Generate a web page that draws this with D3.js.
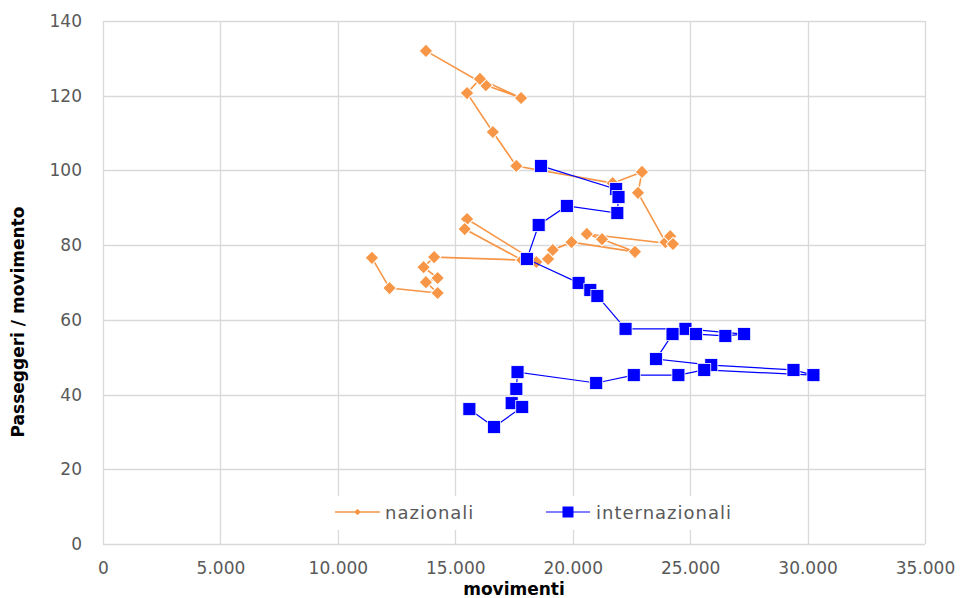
<!DOCTYPE html>
<html>
<head>
<meta charset="utf-8">
<script src="https://cdn.jsdelivr.net/npm/d3@7"></script>
<style>
  html, body { margin: 0; padding: 0; background: #fff; }
  svg { display: block; }
</style>
</head>
<body>
<svg id="chart" width="961" height="598"></svg>
<script>
// ---- data ----
const nazionaliMov = [13750, 16300, 17800, 16050, 15500, 16600, 17600, 21700, 22950, 22780,
  23950, 24150, 24270, 20600, 21250, 22650, 19950, 19150, 18950, 18450,
  15500, 15400, 17850, 14100, 13650, 14250, 13750, 14250, 12200, 11450];
const nazionaliPax = [132.0, 122.8, 119.4, 124.5, 120.7, 110.3, 101.2, 96.6, 99.6, 94.0,
  80.8, 82.4, 80.3, 83.0, 81.6, 78.2, 80.8, 78.7, 76.3, 75.5,
  87.0, 84.3, 76.0, 76.8, 74.1, 71.2, 70.1, 67.2, 68.5, 76.6];
const internazionaliMov = [18650, 21850, 21950, 21900, 19750, 18550, 18050, 20250, 20750, 21050,
  22250, 24800, 27300, 26500, 25250, 24250, 23550, 25900, 29400, 30250,
  25600, 24500, 22600, 21000, 17650, 17600, 17400, 17850, 16650, 15600];
const internazionaliPax = [101.2, 95.0, 92.9, 88.6, 90.5, 85.4, 76.3, 69.9, 68.0, 66.4,
  57.6, 57.6, 56.2, 55.7, 56.2, 56.2, 49.5, 47.9, 46.6, 45.2,
  46.6, 45.2, 45.2, 43.1, 46.0, 41.5, 37.7, 36.7, 31.3, 36.1];
const xTicks = [0, 5000, 10000, 15000, 20000, 25000, 30000, 35000];
const yTicks = [0, 20, 40, 60, 80, 100, 120, 140];
const seriesNames = ["nazionali", "internazionali"];

// ---- layout ----
const svg = d3.select("#chart");
const L = 103, R = 925, T = 21, B = 544;
const x = d3.scaleLinear().domain([0, 35000]).range([L, R]);
const y = d3.scaleLinear().domain([0, 140]).range([B, T]);
const gridColor = "#d9d9d9";
const textColor = "#595959";
const font = "'DejaVu Sans', sans-serif";
const orange = "#f79646";
const blue = "#0000ff";
const fmt = d => d === 0 ? "0" : d3.format(",")(d).replace(/,/g, ".");

// gridlines
svg.append("g").selectAll("line").data(yTicks).join("line")
  .attr("x1", L).attr("x2", R)
  .attr("y1", d => Math.round(y(d)) + 0.5).attr("y2", d => Math.round(y(d)) + 0.5)
  .attr("stroke", gridColor).attr("stroke-width", 1.3);
svg.append("g").selectAll("line").data(xTicks).join("line")
  .attr("y1", T).attr("y2", B)
  .attr("x1", d => Math.round(x(d)) + 0.5).attr("x2", d => Math.round(x(d)) + 0.5)
  .attr("stroke", gridColor).attr("stroke-width", 1.3);

// axes (labels only) via d3 axes
const xAxis = svg.append("g").attr("transform", `translate(0,${B})`)
  .call(d3.axisBottom(x).tickValues(xTicks).tickFormat(fmt).tickSize(0).tickPadding(18));
xAxis.select(".domain").remove();
xAxis.selectAll("text").attr("fill", textColor).style("font-family", font).style("font-size", "17px");

const yAxis = svg.append("g").attr("transform", `translate(${L},0)`)
  .call(d3.axisLeft(y).tickValues(yTicks).tickFormat(fmt).tickSize(0).tickPadding(21));
yAxis.select(".domain").remove();
yAxis.selectAll("text").attr("fill", textColor).style("font-family", font).style("font-size", "17px");

// axis titles
svg.append("text").attr("x", 514).attr("y", 595).attr("text-anchor", "middle")
  .style("font-family", font).style("font-size", "17px").style("font-weight", "bold")
  .attr("fill", "#000").text("movimenti");
svg.append("text").attr("transform", "translate(24,322) rotate(-90)").attr("text-anchor", "middle")
  .style("font-family", font).style("font-size", "17px").style("font-weight", "bold")
  .attr("fill", "#000").text("Passeggeri / movimento");

// series
const nazData = nazionaliMov.map((m, i) => ({ m, p: nazionaliPax[i] }));
const intData = internazionaliMov.map((m, i) => ({ m, p: internazionaliPax[i] }));
const line = d3.line().x(d => x(d.m)).y(d => y(d.p));

svg.append("path").datum(nazData).attr("d", line)
  .attr("fill", "none").attr("stroke", orange).attr("stroke-width", 1.6);
svg.append("g").selectAll("path").data(nazData).join("path")
  .attr("d", d3.symbol(d3.symbolSquare, 92))
  .attr("transform", d => `translate(${x(d.m)},${y(d.p)}) rotate(45)`)
  .attr("fill", orange).attr("stroke", "#fff").attr("stroke-width", 1);

svg.append("path").datum(intData).attr("d", line)
  .attr("fill", "none").attr("stroke", blue).attr("stroke-width", 1.2);
svg.append("g").selectAll("rect").data(intData).join("rect")
  .attr("x", d => x(d.m) - 6.5).attr("y", d => y(d.p) - 6.5)
  .attr("width", 13).attr("height", 13)
  .attr("fill", blue).attr("stroke", "#fff").attr("stroke-width", 0.8);

// legend
const lg = svg.append("g");
lg.append("rect").attr("x", 326).attr("y", 496).attr("width", 420).attr("height", 34).attr("fill", "#fff");
lg.append("line").attr("x1", 335).attr("x2", 380).attr("y1", 512).attr("y2", 512)
  .attr("stroke", orange).attr("stroke-width", 1.6);
lg.append("path").attr("d", d3.symbol(d3.symbolSquare, 22))
  .attr("transform", "translate(357.5,512) rotate(45)").attr("fill", orange);
lg.append("text").attr("x", 385).attr("y", 518.5).text(seriesNames[0])
  .style("font-family", font).style("font-size", "18px").style("letter-spacing", "1px").attr("fill", textColor);
lg.append("line").attr("x1", 546).attr("x2", 590).attr("y1", 512).attr("y2", 512)
  .attr("stroke", blue).attr("stroke-width", 1.2);
lg.append("rect").attr("x", 562.5).attr("y", 506.5).attr("width", 11).attr("height", 11).attr("fill", blue);
lg.append("text").attr("x", 596).attr("y", 518.5).text(seriesNames[1])
  .style("font-family", font).style("font-size", "18px").style("letter-spacing", "1px").attr("fill", textColor);
</script>
</body>
</html>
